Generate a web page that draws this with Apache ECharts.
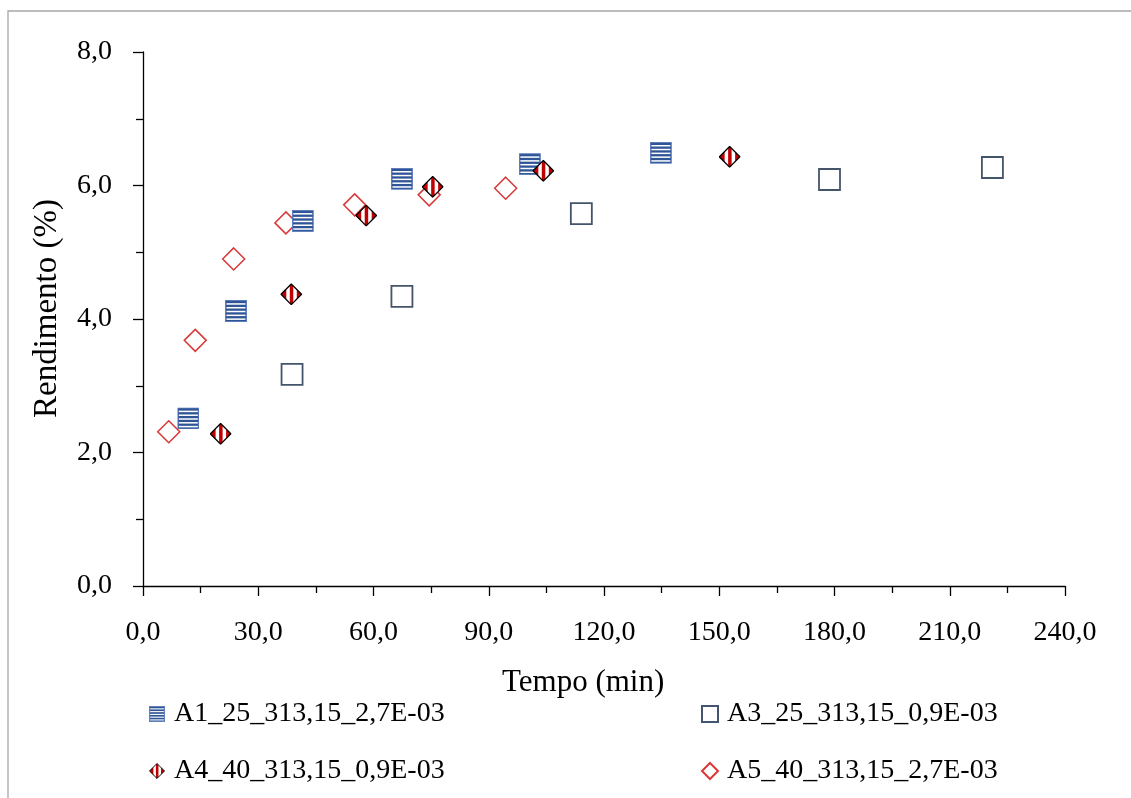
<!DOCTYPE html>
<html>
<head>
<meta charset="utf-8">
<title>Rendimento x Tempo</title>
<script src="https://cdn.jsdelivr.net/npm/echarts@6/dist/echarts.min.js"></script>
<style>
  html, body { margin: 0; padding: 0; background: #fff; }
  #chart { width: 1131px; height: 798px; }
</style>
</head>
<body>
<div id="chart"></div>
<script>
// values: tempo (min) and rendimento (%)
const a1Tempo = [11.8, 24.2, 41.6, 67.4, 100.7, 134.8];
const a1Rend = [2.51, 4.12, 5.47, 6.10, 6.32, 6.49];
const a3Tempo = [38.8, 67.4, 114.1, 178.7, 221.1];
const a3Rend = [3.17, 4.34, 5.58, 6.09, 6.27];
const a4Tempo = [20.2, 38.6, 58.1, 75.4, 104.2, 152.7];
const a4Rend = [2.28, 4.37, 5.55, 5.98, 6.22, 6.43];
const a5Tempo = [6.7, 13.6, 23.6, 37.2, 55.1, 74.5, 94.4];
const a5Rend = [2.31, 3.68, 4.90, 5.44, 5.71, 5.86, 5.96];

const seriesNames = [
  "A1_25_313,15_2,7E-03",
  "A3_25_313,15_0,9E-03",
  "A4_40_313,15_0,9E-03",
  "A5_40_313,15_2,7E-03",
];

const FONT = "'Liberation Serif', 'Times New Roman', serif";

function pairs(xs, ys) {
  return xs.map((x, i) => [x, ys[i]]);
}

function svgSymbol(svg) {
  return "image://data:image/svg+xml;charset=utf-8," + encodeURIComponent(svg);
}

// blue square with white horizontal stripes
const stripedSquare = svgSymbol(
  '<svg xmlns="http://www.w3.org/2000/svg" width="22" height="22" viewBox="0 0 22 22">' +
    '<rect x="0.5" y="0.5" width="21" height="21" fill="#2f5597" stroke="#5a7bbd" stroke-width="1"/>' +
    '<g fill="#ffffff">' +
    '<rect x="1.5" y="3.2" width="19" height="1.5"/>' +
    '<rect x="1.5" y="7.0" width="19" height="1.5"/>' +
    '<rect x="1.5" y="10.8" width="19" height="1.5"/>' +
    '<rect x="1.5" y="14.6" width="19" height="1.5"/>' +
    '<rect x="1.5" y="18.4" width="19" height="1.5"/>' +
    "</g></svg>"
);

// diamond with black border and red vertical stripes
const diamondPts = "11,0.7 21.3,11 11,21.3 0.7,11";
const stripedDiamond = svgSymbol(
  '<svg xmlns="http://www.w3.org/2000/svg" width="22" height="22" viewBox="0 0 22 22">' +
    '<defs><clipPath id="c"><polygon points="' + diamondPts + '"/></clipPath></defs>' +
    '<polygon points="' + diamondPts + '" fill="#ffffff"/>' +
    '<g clip-path="url(#c)" fill="#c00000">' +
    '<rect x="0" y="0" width="6" height="22"/>' +
    '<rect x="9.5" y="0" width="3.5" height="22"/>' +
    '<rect x="16.5" y="0" width="5.5" height="22"/>' +
    "</g>" +
    '<polygon points="' + diamondPts + '" fill="none" stroke="#000000" stroke-width="1.3"/>' +
    "</svg>"
);

const fmt = (v) => v.toFixed(1).replace(".", ",");

function legendAt(name, left, top) {
  return {
    data: [name],
    left: left,
    top: top,
    orient: "horizontal",
    padding: 0,
    itemWidth: 16,
    itemHeight: 16,
    selectedMode: false,
    textStyle: {
      fontFamily: FONT,
      fontSize: 28,
      color: "#000",
      lineHeight: 28,
      padding: [0, 0, 0, 4],
    },
  };
}

const chart = echarts.init(document.getElementById("chart"));

const option = {
  animation: false,
  backgroundColor: "#fff",
  grid: { left: 143, right: 66, top: 52, bottom: 212, containLabel: false },
  xAxis: {
    type: "value",
    min: 0,
    max: 240,
    interval: 30,
    axisLine: { show: true, onZero: false, lineStyle: { color: "#000", width: 1.3 } },
    axisTick: { show: true, length: 10, lineStyle: { color: "#000", width: 1.3 } },
    minorTick: { show: true, splitNumber: 2, length: 7, lineStyle: { color: "#000", width: 1.3 } },
    splitLine: { show: false },
    axisLabel: {
      fontFamily: FONT,
      fontSize: 28,
      color: "#000",
      margin: 33,
      formatter: fmt,
    },
  },
  yAxis: {
    type: "value",
    min: 0,
    max: 8,
    interval: 2,
    axisLine: { show: true, onZero: false, lineStyle: { color: "#000", width: 1.3 } },
    axisTick: { show: true, length: 10, lineStyle: { color: "#000", width: 1.3 } },
    minorTick: { show: true, splitNumber: 2, length: 7, lineStyle: { color: "#000", width: 1.3 } },
    splitLine: { show: false },
    axisLabel: {
      fontFamily: FONT,
      fontSize: 28,
      color: "#000",
      margin: 31,
      formatter: fmt,
    },
  },
  legend: [
    legendAt(seriesNames[0], 149, 700),
    legendAt(seriesNames[1], 701, 700),
    legendAt(seriesNames[2], 149, 757),
    legendAt(seriesNames[3], 701, 757),
  ],
  graphic: [
    {
      type: "rect",
      silent: true,
      shape: { x: 8, y: 11, width: 2000, height: 2000 },
      style: { fill: "none", stroke: "#a6a6a6", lineWidth: 1.3 },
    },
    {
      type: "text",
      left: 502,
      top: 667,
      style: { text: "Tempo (min)", fontFamily: FONT, fontSize: 31, fill: "#000" },
    },
    {
      type: "text",
      left: 31,
      top: 199,
      rotation: Math.PI / 2,
      style: { text: "Rendimento (%)", fontFamily: FONT, fontSize: 33, fill: "#000" },
    },
  ],
  series: [
    {
      name: seriesNames[3],
      type: "scatter",
      symbol: "diamond",
      symbolSize: 22,
      itemStyle: { color: "rgba(255,255,255,0)", borderColor: "#d9383a", borderWidth: 1.5, opacity: 1 },
      data: pairs(a5Tempo, a5Rend),
    },
    {
      name: seriesNames[1],
      type: "scatter",
      symbol: "rect",
      symbolSize: 21,
      itemStyle: { color: "rgba(255,255,255,0)", borderColor: "#44546a", borderWidth: 1.8, opacity: 1 },
      data: pairs(a3Tempo, a3Rend),
    },
    {
      name: seriesNames[0],
      type: "scatter",
      symbol: stripedSquare,
      symbolSize: 22,
      itemStyle: { opacity: 1 },
      data: pairs(a1Tempo, a1Rend),
    },
    {
      name: seriesNames[2],
      type: "scatter",
      symbol: stripedDiamond,
      symbolSize: 22,
      itemStyle: { opacity: 1 },
      data: pairs(a4Tempo, a4Rend),
    },
  ],
};

chart.setOption(option);
</script>
</body>
</html>
